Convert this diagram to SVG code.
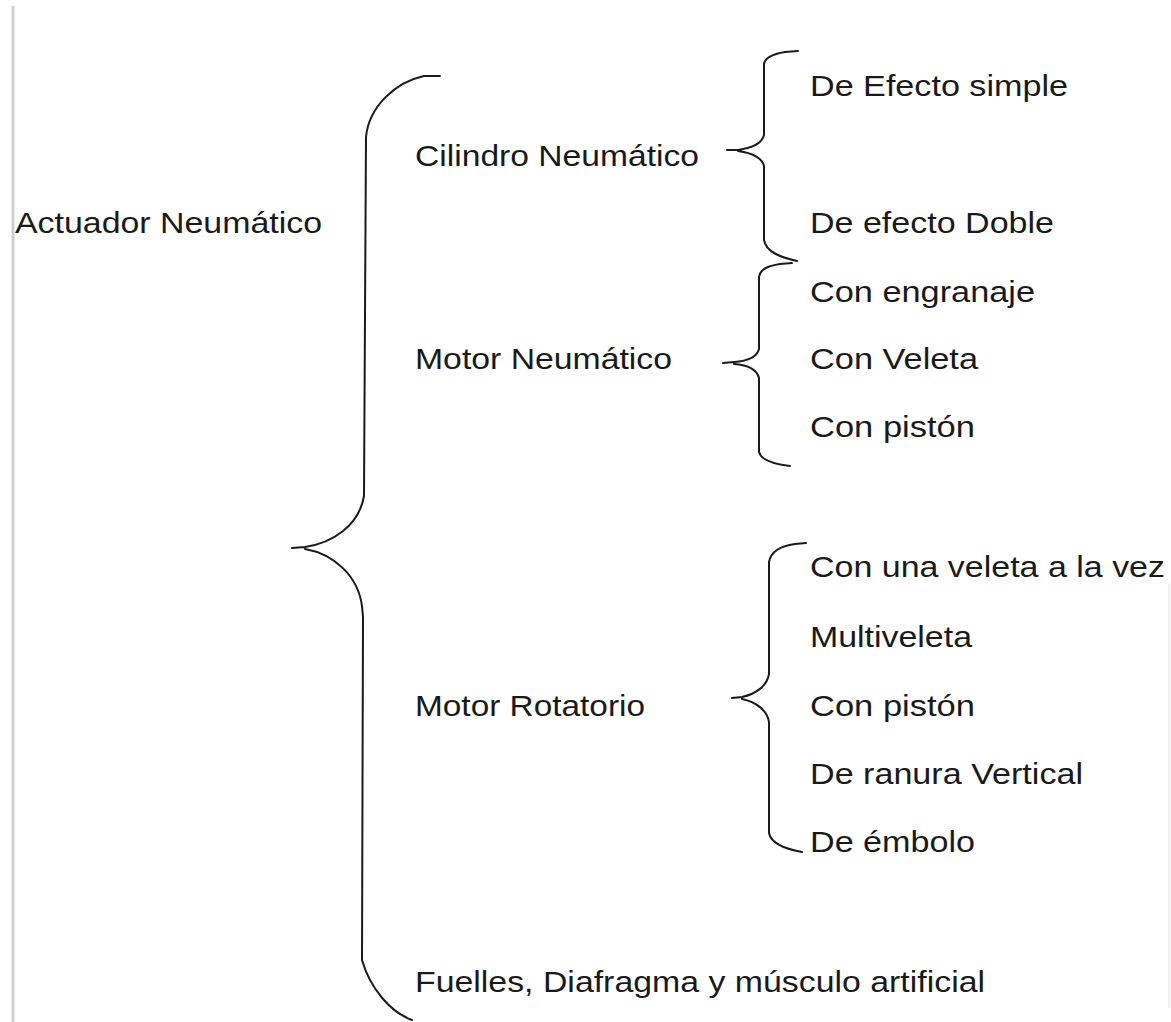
<svg xmlns="http://www.w3.org/2000/svg" width="1171" height="1022" viewBox="0 0 1171 1022">
<style>
  .t { font-family: "Liberation Sans", Arial, sans-serif; font-size: 30px; fill: #1a1a1a; }
  .b { fill: none; stroke: #1a1a1a; stroke-width: 2; stroke-linecap: round; stroke-linejoin: round; }
  .frame { stroke: #cfcfcf; stroke-width: 3; }
  .frame2 { stroke: #efefef; stroke-width: 2; }
</style>
<rect x="0" y="0" width="1171" height="1022" fill="#ffffff"/>
<line class="frame" x1="13" y1="6" x2="13" y2="1022"/>
<line class="frame2" x1="1169" y1="583" x2="1169" y2="1008"/>

<g id="connectors">
  <path class="b" d="M440,76 L424,76 C396,82 369,106 366,137 L364,496 C359,526 332,543 305,547 L292,548 M305,549 C334,554 358,576 362,606 L363,617 L362,960 C370,988 390,1012 412,1020"/>
  <path class="b" d="M798,51 L785,52 C773,54 765,57 764,64 L764,135 C762,144 752,148 738,150 L727,150 M738,151 C752,153 762,158 764,166 L764,240 C766,252 780,257 797,261"/>
  <path class="b" d="M792,263 L780,264 C768,266 760,269 759,277 L759,349 C757,357 748,361 734,362 L723,363 M734,364 C748,365 757,370 759,378 L759,452 C761,460 774,464 790,466"/>
  <path class="b" d="M806,543 L795,544 C780,546 771,551 769,562 L769,674 C767,686 756,694 742,697 L732,698 M742,699 C756,702 767,710 769,722 L769,833 C771,843 785,849 802,852"/>
</g>

<g id="root"><text class="t" x="15" y="233" textLength="307" lengthAdjust="spacingAndGlyphs">Actuador Neumático</text></g>
<g id="cilindro"><text class="t" x="415" y="166" textLength="284" lengthAdjust="spacingAndGlyphs">Cilindro Neumático</text></g>
<g id="efecto-simple"><text class="t" x="810" y="96" textLength="258" lengthAdjust="spacingAndGlyphs">De Efecto simple</text></g>
<g id="efecto-doble"><text class="t" x="810" y="233" textLength="244" lengthAdjust="spacingAndGlyphs">De efecto Doble</text></g>
<g id="motor-neumatico"><text class="t" x="415" y="369" textLength="257" lengthAdjust="spacingAndGlyphs">Motor Neumático</text></g>
<g id="engranaje"><text class="t" x="810" y="302" textLength="225" lengthAdjust="spacingAndGlyphs">Con engranaje</text></g>
<g id="veleta"><text class="t" x="810" y="369" textLength="168" lengthAdjust="spacingAndGlyphs">Con Veleta</text></g>
<g id="piston1"><text class="t" x="810" y="437" textLength="165" lengthAdjust="spacingAndGlyphs">Con pistón</text></g>
<g id="motor-rotatorio"><text class="t" x="415" y="716" textLength="230" lengthAdjust="spacingAndGlyphs">Motor Rotatorio</text></g>
<g id="una-veleta"><text class="t" x="810" y="577" textLength="355" lengthAdjust="spacingAndGlyphs">Con una veleta a la vez</text></g>
<g id="multiveleta"><text class="t" x="810" y="647" textLength="162" lengthAdjust="spacingAndGlyphs">Multiveleta</text></g>
<g id="piston2"><text class="t" x="810" y="716" textLength="165" lengthAdjust="spacingAndGlyphs">Con pistón</text></g>
<g id="ranura"><text class="t" x="810" y="784" textLength="273" lengthAdjust="spacingAndGlyphs">De ranura Vertical</text></g>
<g id="embolo"><text class="t" x="810" y="852" textLength="165" lengthAdjust="spacingAndGlyphs">De émbolo</text></g>
<g id="fuelles"><text class="t" x="415" y="992" textLength="570" lengthAdjust="spacingAndGlyphs">Fuelles, Diafragma y músculo artificial</text></g>
</svg>
